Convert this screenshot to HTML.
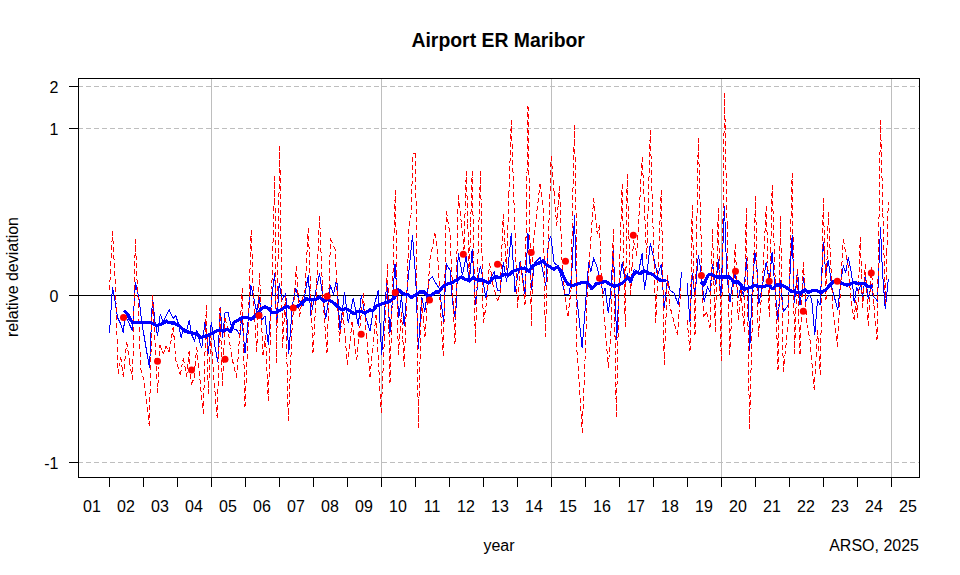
<!DOCTYPE html>
<html><head><meta charset="utf-8"><title>Airport ER Maribor</title>
<style>
html,body{margin:0;padding:0;background:#fff}
body{width:960px;height:575px;position:relative;overflow:hidden;font-family:"Liberation Sans",sans-serif;color:#000}
.t{position:absolute;font-size:16px;line-height:18px;white-space:nowrap}
#title{position:absolute;left:298.2px;width:400px;text-align:center;top:29.2px;font-size:19.4px;line-height:22px;font-weight:bold;white-space:nowrap}
#yl{position:absolute;left:-87px;top:268px;width:200px;height:18px;text-align:center;transform:rotate(-90deg);transform-origin:center center;font-size:16px;line-height:18px;white-space:nowrap}
</style></head><body>
<svg width="960" height="575" viewBox="0 0 960 575" style="position:absolute;left:0;top:0" shape-rendering="crispEdges">
<line x1="211.5" y1="78" x2="211.5" y2="477" stroke="#bebebe" stroke-width="1"/>
<line x1="381.5" y1="78" x2="381.5" y2="477" stroke="#bebebe" stroke-width="1"/>
<line x1="551.5" y1="78" x2="551.5" y2="477" stroke="#bebebe" stroke-width="1"/>
<line x1="721.5" y1="78" x2="721.5" y2="477" stroke="#bebebe" stroke-width="1"/>
<line x1="891.5" y1="78" x2="891.5" y2="477" stroke="#bebebe" stroke-width="1"/>
<line x1="78" y1="86.5" x2="919" y2="86.5" stroke="#bebebe" stroke-width="1" stroke-dasharray="5,3"/>
<line x1="78" y1="128.5" x2="919" y2="128.5" stroke="#bebebe" stroke-width="1" stroke-dasharray="5,3"/>
<line x1="78" y1="462.5" x2="919" y2="462.5" stroke="#bebebe" stroke-width="1" stroke-dasharray="5,3"/>
<line x1="78" y1="295.5" x2="919" y2="295.5" stroke="#000" stroke-width="1"/>
<g shape-rendering="crispEdges" fill="none">
<polyline points="109.5,333.3 112.5,286.7 115.3,303.0 117.5,317.5 120.8,324.0 123.3,332.5 125.0,316.0 127.5,320.0 132.5,330.8 135.5,282.5 139.2,300.0 141.7,321.7 149.5,368.3 152.5,296.7 155.0,321.7 157.5,335.8 160.3,314.0 163.0,321.7 169.2,310.0 173.3,318.3 175.8,315.8 178.3,323.3 181.2,338.3 183.3,328.3 186.7,330.0 189.2,320.0 191.7,335.0 194.7,340.8 196.7,330.0 199.2,340.0 201.7,348.3 205.3,320.0 208.3,354.0 211.3,321.7 215.0,346.7 217.8,361.7 220.3,306.7 222.5,338.0 225.0,313.0 228.0,312.5 231.7,328.3 236.7,330.0 240.0,335.0 241.7,316.0 245.0,353.0 247.5,328.3 250.8,285.0 254.2,300.0 256.7,311.7 259.2,296.7 262.0,320.0 265.0,316.0 268.3,345.0 271.5,300.0 274.7,272.7 276.7,325.8 279.2,282.7 282.0,300.0 285.8,293.5 288.7,354.0 292.5,305.0 295.8,288.5 299.0,300.0 303.0,306.0 308.3,275.0 310.8,315.8 314.0,300.0 319.5,273.5 323.0,298.0 325.8,319.0 330.5,285.0 333.5,294.5 336.7,278.5 340.0,330.0 344.5,292.0 348.3,323.0 353.3,297.7 358.3,325.8 361.3,295.0 365.0,315.0 370.0,330.8 374.0,306.0 378.3,290.0 381.7,355.0 386.7,282.0 390.0,332.5 395.0,264.3 398.8,317.5 401.5,296.0 404.2,325.8 407.5,285.0 412.5,235.0 415.8,280.0 418.3,349.3 421.7,296.7 424.7,311.7 429.2,280.0 432.5,276.7 435.8,283.3 439.2,288.3 443.7,321.7 446.3,264.0 450.0,270.0 452.5,301.7 455.5,320.0 458.3,253.5 462.5,275.0 466.3,256.0 469.2,283.0 472.2,249.3 475.5,305.0 478.3,276.7 480.5,265.8 483.0,280.0 485.8,298.3 488.3,283.3 490.8,278.0 494.2,271.7 497.5,290.8 500.0,290.0 503.3,262.5 506.7,281.7 511.3,233.5 515.0,291.7 520.3,260.8 525.0,294.0 528.0,233.5 531.7,290.0 534.2,263.3 540.0,257.5 545.8,285.8 548.3,242.7 550.8,236.0 554.2,263.3 558.3,265.8 562.5,283.3 565.0,295.0 569.2,294.0 571.7,275.0 574.5,215.0 576.7,296.7 582.2,348.3 585.8,300.0 588.7,262.5 590.8,271.7 593.7,258.3 597.5,268.3 600.8,283.3 603.3,293.3 605.0,288.0 608.3,313.3 610.8,291.7 613.3,247.7 616.7,340.0 619.2,283.3 622.2,262.5 625.0,280.0 627.5,274.0 630.0,283.0 634.2,269.0 638.3,273.3 642.2,253.5 644.5,290.0 646.7,275.0 650.3,243.5 654.2,260.0 657.5,275.0 661.3,264.0 664.2,308.3 667.5,279.0 670.0,290.0 674.2,293.3 678.3,305.0 681.7,271.7" stroke="#0000ff" stroke-width="1"/>
<polyline points="687.0,282.5 690.0,321.7 692.2,273.3 695.0,296.7 698.3,255.0 700.8,270.0 704.2,301.7 707.5,286.7 710.0,291.7 712.5,264.2 715.8,285.0 718.3,259.2 720.8,298.3 724.5,205.7 726.7,273.3 730.0,301.7 732.5,283.3 735.3,272.5 738.3,298.3 740.8,286.7 743.7,296.7 746.3,258.3 748.3,290.0 749.7,350.8 752.5,281.7 755.0,252.5 757.5,273.3 758.7,304.2 761.7,290.0 766.3,261.7 769.2,281.7 772.2,251.7 775.0,290.0 778.2,321.7 780.5,280.0 783.3,311.7 788.3,305.0 792.2,234.8 794.5,303.3 797.5,269.2 800.0,305.0 803.7,277.5 805.8,301.7 809.2,295.0 811.7,299.2 814.8,335.0 817.5,300.0 820.0,305.0 823.3,242.3 825.8,273.3 828.3,260.0 831.7,286.7 837.8,310.2 840.8,281.0 843.3,266.0 845.8,272.7 848.3,257.5 851.7,274.3 854.2,302.7 856.7,286.8 858.3,291.8 860.8,284.3 862.5,298.5 865.3,275.0 868.3,299.3 871.3,285.2 873.3,296.0 877.5,301.0 880.5,227.0 882.5,272.7 885.3,309.3 888.3,279.3" stroke="#0000ff" stroke-width="1"/>
<polyline points="109.5,290.0 111.0,260.5" stroke="#ff0000" stroke-width="1" stroke-dasharray="5,3"/>
<polyline points="112.5,231.0 111.0,260.5" stroke="#ff0000" stroke-width="1" stroke-dasharray="5,3" stroke-dashoffset="2"/>
<polyline points="112.5,231.0 115.5,287.0 116.0,302.5" stroke="#ff0000" stroke-width="1" stroke-dasharray="5,3"/>
<polyline points="118.2,374.0 116.0,302.5" stroke="#ff0000" stroke-width="1" stroke-dasharray="5,3" stroke-dashoffset="2"/>
<polyline points="118.2,374.0 119.5,365.5" stroke="#ff0000" stroke-width="1" stroke-dasharray="5,3"/>
<polyline points="120.8,357.0 119.5,365.5" stroke="#ff0000" stroke-width="1" stroke-dasharray="5,3" stroke-dashoffset="2"/>
<polyline points="120.8,357.0 122.0,367.0" stroke="#ff0000" stroke-width="1" stroke-dasharray="5,3"/>
<polyline points="123.3,377.0 122.0,367.0" stroke="#ff0000" stroke-width="1" stroke-dasharray="5,3" stroke-dashoffset="2"/>
<polyline points="123.3,377.0 125.0,359.5" stroke="#ff0000" stroke-width="1" stroke-dasharray="5,3"/>
<polyline points="126.7,342.0 125.0,359.5" stroke="#ff0000" stroke-width="1" stroke-dasharray="5,3" stroke-dashoffset="2"/>
<polyline points="126.7,342.0 129.4,361.0" stroke="#ff0000" stroke-width="1" stroke-dasharray="5,3"/>
<polyline points="132.5,380.0 129.5,362.0 129.4,361.0" stroke="#ff0000" stroke-width="1" stroke-dasharray="5,3" stroke-dashoffset="2"/>
<polyline points="132.5,380.0 134.0,309.5" stroke="#ff0000" stroke-width="1" stroke-dasharray="5,3"/>
<polyline points="135.3,239.0 134.2,300.0 134.0,309.5" stroke="#ff0000" stroke-width="1" stroke-dasharray="5,3" stroke-dashoffset="2"/>
<polyline points="135.3,239.0 137.0,280.0 138.2,300.0 139.4,332.8" stroke="#ff0000" stroke-width="1" stroke-dasharray="5,3"/>
<polyline points="149.2,426.0 146.5,400.0 144.2,381.0 140.8,369.0 139.4,332.8" stroke="#ff0000" stroke-width="1" stroke-dasharray="5,3" stroke-dashoffset="2"/>
<polyline points="149.2,426.0 150.8,360.5" stroke="#ff0000" stroke-width="1" stroke-dasharray="5,3"/>
<polyline points="152.5,295.0 150.8,360.0 150.8,360.5" stroke="#ff0000" stroke-width="1" stroke-dasharray="5,3" stroke-dashoffset="2"/>
<polyline points="152.5,295.0 155.0,340.0 155.2,344.0" stroke="#ff0000" stroke-width="1" stroke-dasharray="5,3"/>
<polyline points="157.5,393.0 155.2,344.0" stroke="#ff0000" stroke-width="1" stroke-dasharray="5,3" stroke-dashoffset="2"/>
<polyline points="157.5,393.0 158.8,369.0" stroke="#ff0000" stroke-width="1" stroke-dasharray="5,3"/>
<polyline points="160.0,345.0 158.8,369.0" stroke="#ff0000" stroke-width="1" stroke-dasharray="5,3" stroke-dashoffset="2"/>
<polyline points="160.0,345.0 161.7,349.5" stroke="#ff0000" stroke-width="1" stroke-dasharray="5,3"/>
<polyline points="163.3,354.0 161.7,349.5" stroke="#ff0000" stroke-width="1" stroke-dasharray="5,3" stroke-dashoffset="2"/>
<polyline points="163.3,354.0 164.6,349.9" stroke="#ff0000" stroke-width="1" stroke-dasharray="5,3"/>
<polyline points="165.8,345.7 164.6,349.9" stroke="#ff0000" stroke-width="1" stroke-dasharray="5,3" stroke-dashoffset="2"/>
<polyline points="165.8,345.7 167.5,349.0" stroke="#ff0000" stroke-width="1" stroke-dasharray="5,3"/>
<polyline points="169.2,352.3 167.5,349.0" stroke="#ff0000" stroke-width="1" stroke-dasharray="5,3" stroke-dashoffset="2"/>
<polyline points="169.2,352.3 171.2,339.5" stroke="#ff0000" stroke-width="1" stroke-dasharray="5,3"/>
<polyline points="173.3,326.7 171.2,339.5" stroke="#ff0000" stroke-width="1" stroke-dasharray="5,3" stroke-dashoffset="2"/>
<polyline points="173.3,326.7 175.1,351.2" stroke="#ff0000" stroke-width="1" stroke-dasharray="5,3"/>
<polyline points="180.3,375.0 175.8,360.0 175.1,351.2" stroke="#ff0000" stroke-width="1" stroke-dasharray="5,3" stroke-dashoffset="2"/>
<polyline points="180.3,375.0 181.8,366.5" stroke="#ff0000" stroke-width="1" stroke-dasharray="5,3"/>
<polyline points="183.3,358.0 181.8,366.5" stroke="#ff0000" stroke-width="1" stroke-dasharray="5,3" stroke-dashoffset="2"/>
<polyline points="183.3,358.0 185.0,367.2" stroke="#ff0000" stroke-width="1" stroke-dasharray="5,3"/>
<polyline points="186.7,376.5 185.0,367.2" stroke="#ff0000" stroke-width="1" stroke-dasharray="5,3" stroke-dashoffset="2"/>
<polyline points="186.7,376.5 187.9,363.6" stroke="#ff0000" stroke-width="1" stroke-dasharray="5,3"/>
<polyline points="189.2,350.7 187.9,363.6" stroke="#ff0000" stroke-width="1" stroke-dasharray="5,3" stroke-dashoffset="2"/>
<polyline points="189.2,350.7 190.2,367.9" stroke="#ff0000" stroke-width="1" stroke-dasharray="5,3"/>
<polyline points="191.3,385.0 190.2,367.9" stroke="#ff0000" stroke-width="1" stroke-dasharray="5,3" stroke-dashoffset="2"/>
<polyline points="191.3,385.0 194.0,378.0 195.0,366.1" stroke="#ff0000" stroke-width="1" stroke-dasharray="5,3"/>
<polyline points="196.7,346.7 195.0,366.1" stroke="#ff0000" stroke-width="1" stroke-dasharray="5,3" stroke-dashoffset="2"/>
<polyline points="196.7,346.7 200.0,380.0 200.0,380.3" stroke="#ff0000" stroke-width="1" stroke-dasharray="5,3"/>
<polyline points="203.3,414.0 200.0,380.3" stroke="#ff0000" stroke-width="1" stroke-dasharray="5,3" stroke-dashoffset="2"/>
<polyline points="203.3,414.0 204.8,359.5" stroke="#ff0000" stroke-width="1" stroke-dasharray="5,3"/>
<polyline points="206.3,305.0 204.8,359.5" stroke="#ff0000" stroke-width="1" stroke-dasharray="5,3" stroke-dashoffset="2"/>
<polyline points="206.3,305.0 207.3,349.5" stroke="#ff0000" stroke-width="1" stroke-dasharray="5,3"/>
<polyline points="208.3,394.0 207.3,349.5" stroke="#ff0000" stroke-width="1" stroke-dasharray="5,3" stroke-dashoffset="2"/>
<polyline points="208.3,394.0 209.6,364.5" stroke="#ff0000" stroke-width="1" stroke-dasharray="5,3"/>
<polyline points="210.8,335.0 209.6,364.5" stroke="#ff0000" stroke-width="1" stroke-dasharray="5,3" stroke-dashoffset="2"/>
<polyline points="210.8,335.0 213.8,376.5" stroke="#ff0000" stroke-width="1" stroke-dasharray="5,3"/>
<polyline points="217.2,418.0 214.0,380.0 213.8,376.5" stroke="#ff0000" stroke-width="1" stroke-dasharray="5,3" stroke-dashoffset="2"/>
<polyline points="217.2,418.0 218.6,363.0" stroke="#ff0000" stroke-width="1" stroke-dasharray="5,3"/>
<polyline points="220.0,308.0 218.6,363.0" stroke="#ff0000" stroke-width="1" stroke-dasharray="5,3" stroke-dashoffset="2"/>
<polyline points="220.0,308.0 221.2,347.2" stroke="#ff0000" stroke-width="1" stroke-dasharray="5,3"/>
<polyline points="222.5,386.5 221.2,347.2" stroke="#ff0000" stroke-width="1" stroke-dasharray="5,3" stroke-dashoffset="2"/>
<polyline points="222.5,386.5 223.8,352.2" stroke="#ff0000" stroke-width="1" stroke-dasharray="5,3"/>
<polyline points="225.0,318.0 223.8,352.2" stroke="#ff0000" stroke-width="1" stroke-dasharray="5,3" stroke-dashoffset="2"/>
<polyline points="225.0,318.0 228.0,330.0 230.5,348.1" stroke="#ff0000" stroke-width="1" stroke-dasharray="5,3"/>
<polyline points="236.7,378.0 231.7,357.0 230.5,348.1" stroke="#ff0000" stroke-width="1" stroke-dasharray="5,3" stroke-dashoffset="2"/>
<polyline points="236.7,378.0 239.8,333.0" stroke="#ff0000" stroke-width="1" stroke-dasharray="5,3"/>
<polyline points="242.2,288.0 240.0,330.0 239.8,333.0" stroke="#ff0000" stroke-width="1" stroke-dasharray="5,3" stroke-dashoffset="2"/>
<polyline points="242.2,288.0 243.6,347.5" stroke="#ff0000" stroke-width="1" stroke-dasharray="5,3"/>
<polyline points="245.0,407.0 243.6,347.5" stroke="#ff0000" stroke-width="1" stroke-dasharray="5,3" stroke-dashoffset="2"/>
<polyline points="245.0,407.0 247.5,350.0 248.5,318.5" stroke="#ff0000" stroke-width="1" stroke-dasharray="5,3"/>
<polyline points="251.2,230.0 248.5,318.5" stroke="#ff0000" stroke-width="1" stroke-dasharray="5,3" stroke-dashoffset="2"/>
<polyline points="251.2,230.0 253.2,291.0" stroke="#ff0000" stroke-width="1" stroke-dasharray="5,3"/>
<polyline points="256.7,352.0 253.5,300.0 253.2,291.0" stroke="#ff0000" stroke-width="1" stroke-dasharray="5,3" stroke-dashoffset="2"/>
<polyline points="256.7,352.0 258.1,312.4" stroke="#ff0000" stroke-width="1" stroke-dasharray="5,3"/>
<polyline points="259.5,272.7 258.1,312.4" stroke="#ff0000" stroke-width="1" stroke-dasharray="5,3" stroke-dashoffset="2"/>
<polyline points="259.5,272.7 261.2,313.9" stroke="#ff0000" stroke-width="1" stroke-dasharray="5,3"/>
<polyline points="263.0,355.0 261.2,313.9" stroke="#ff0000" stroke-width="1" stroke-dasharray="5,3" stroke-dashoffset="2"/>
<polyline points="263.0,355.0 264.2,345.0" stroke="#ff0000" stroke-width="1" stroke-dasharray="5,3"/>
<polyline points="265.5,335.0 264.2,345.0" stroke="#ff0000" stroke-width="1" stroke-dasharray="5,3" stroke-dashoffset="2"/>
<polyline points="265.5,335.0 266.9,368.0" stroke="#ff0000" stroke-width="1" stroke-dasharray="5,3"/>
<polyline points="268.3,401.0 266.9,368.0" stroke="#ff0000" stroke-width="1" stroke-dasharray="5,3" stroke-dashoffset="2"/>
<polyline points="268.3,401.0 271.5,300.0 271.8,288.5" stroke="#ff0000" stroke-width="1" stroke-dasharray="5,3"/>
<polyline points="274.7,176.0 271.8,288.5" stroke="#ff0000" stroke-width="1" stroke-dasharray="5,3" stroke-dashoffset="2"/>
<polyline points="274.7,176.0 275.6,269.5" stroke="#ff0000" stroke-width="1" stroke-dasharray="5,3"/>
<polyline points="276.5,363.0 275.6,269.5" stroke="#ff0000" stroke-width="1" stroke-dasharray="5,3" stroke-dashoffset="2"/>
<polyline points="276.5,363.0 278.1,254.5" stroke="#ff0000" stroke-width="1" stroke-dasharray="5,3"/>
<polyline points="279.7,146.0 278.1,254.5" stroke="#ff0000" stroke-width="1" stroke-dasharray="5,3" stroke-dashoffset="2"/>
<polyline points="279.7,146.0 281.1,247.0" stroke="#ff0000" stroke-width="1" stroke-dasharray="5,3"/>
<polyline points="282.5,348.0 281.1,247.0" stroke="#ff0000" stroke-width="1" stroke-dasharray="5,3" stroke-dashoffset="2"/>
<polyline points="282.5,348.0 284.0,322.0" stroke="#ff0000" stroke-width="1" stroke-dasharray="5,3"/>
<polyline points="285.5,296.0 284.0,322.0" stroke="#ff0000" stroke-width="1" stroke-dasharray="5,3" stroke-dashoffset="2"/>
<polyline points="285.5,296.0 286.9,358.5" stroke="#ff0000" stroke-width="1" stroke-dasharray="5,3"/>
<polyline points="288.3,421.0 286.9,358.5" stroke="#ff0000" stroke-width="1" stroke-dasharray="5,3" stroke-dashoffset="2"/>
<polyline points="288.3,421.0 291.5,343.5" stroke="#ff0000" stroke-width="1" stroke-dasharray="5,3"/>
<polyline points="296.3,266.0 292.0,330.0 291.5,343.5" stroke="#ff0000" stroke-width="1" stroke-dasharray="5,3" stroke-dashoffset="2"/>
<polyline points="296.3,266.0 297.9,291.5" stroke="#ff0000" stroke-width="1" stroke-dasharray="5,3"/>
<polyline points="299.5,317.0 297.9,291.5" stroke="#ff0000" stroke-width="1" stroke-dasharray="5,3" stroke-dashoffset="2"/>
<polyline points="299.5,317.0 302.0,300.0 305.0,290.0 305.9,272.8" stroke="#ff0000" stroke-width="1" stroke-dasharray="5,3"/>
<polyline points="308.3,228.0 305.9,272.8" stroke="#ff0000" stroke-width="1" stroke-dasharray="5,3" stroke-dashoffset="2"/>
<polyline points="308.3,228.0 310.6,290.2" stroke="#ff0000" stroke-width="1" stroke-dasharray="5,3"/>
<polyline points="313.0,352.5 310.6,290.2" stroke="#ff0000" stroke-width="1" stroke-dasharray="5,3" stroke-dashoffset="2"/>
<polyline points="313.0,352.5 316.0,300.0 316.7,284.3" stroke="#ff0000" stroke-width="1" stroke-dasharray="5,3"/>
<polyline points="319.5,216.0 316.7,284.3" stroke="#ff0000" stroke-width="1" stroke-dasharray="5,3" stroke-dashoffset="2"/>
<polyline points="319.5,216.0 322.4,284.6" stroke="#ff0000" stroke-width="1" stroke-dasharray="5,3"/>
<polyline points="327.0,353.0 323.0,300.0 322.4,284.6" stroke="#ff0000" stroke-width="1" stroke-dasharray="5,3" stroke-dashoffset="2"/>
<polyline points="327.0,353.0 328.8,295.8" stroke="#ff0000" stroke-width="1" stroke-dasharray="5,3"/>
<polyline points="330.5,238.5 328.8,295.8" stroke="#ff0000" stroke-width="1" stroke-dasharray="5,3" stroke-dashoffset="2"/>
<polyline points="330.5,238.5 335.0,249.0 337.0,289.8" stroke="#ff0000" stroke-width="1" stroke-dasharray="5,3"/>
<polyline points="339.5,342.0 337.0,289.8" stroke="#ff0000" stroke-width="1" stroke-dasharray="5,3" stroke-dashoffset="2"/>
<polyline points="339.5,342.0 341.2,327.0" stroke="#ff0000" stroke-width="1" stroke-dasharray="5,3"/>
<polyline points="343.0,312.0 341.2,327.0" stroke="#ff0000" stroke-width="1" stroke-dasharray="5,3" stroke-dashoffset="2"/>
<polyline points="343.0,312.0 345.2,338.5" stroke="#ff0000" stroke-width="1" stroke-dasharray="5,3"/>
<polyline points="347.5,365.0 345.2,338.5" stroke="#ff0000" stroke-width="1" stroke-dasharray="5,3" stroke-dashoffset="2"/>
<polyline points="347.5,365.0 349.8,343.5" stroke="#ff0000" stroke-width="1" stroke-dasharray="5,3"/>
<polyline points="352.0,322.0 349.8,343.5" stroke="#ff0000" stroke-width="1" stroke-dasharray="5,3" stroke-dashoffset="2"/>
<polyline points="352.0,322.0 354.4,341.0" stroke="#ff0000" stroke-width="1" stroke-dasharray="5,3"/>
<polyline points="356.7,360.0 354.4,341.0" stroke="#ff0000" stroke-width="1" stroke-dasharray="5,3" stroke-dashoffset="2"/>
<polyline points="356.7,360.0 360.0,326.4" stroke="#ff0000" stroke-width="1" stroke-dasharray="5,3"/>
<polyline points="363.3,292.7 360.0,326.4" stroke="#ff0000" stroke-width="1" stroke-dasharray="5,3" stroke-dashoffset="2"/>
<polyline points="363.3,292.7 366.0,330.0 366.4,334.7" stroke="#ff0000" stroke-width="1" stroke-dasharray="5,3"/>
<polyline points="370.0,376.7 366.4,334.7" stroke="#ff0000" stroke-width="1" stroke-dasharray="5,3" stroke-dashoffset="2"/>
<polyline points="370.0,376.7 373.0,345.9" stroke="#ff0000" stroke-width="1" stroke-dasharray="5,3"/>
<polyline points="376.0,315.0 373.0,345.9" stroke="#ff0000" stroke-width="1" stroke-dasharray="5,3" stroke-dashoffset="2"/>
<polyline points="376.0,315.0 378.6,364.0" stroke="#ff0000" stroke-width="1" stroke-dasharray="5,3"/>
<polyline points="381.2,413.0 378.6,364.0" stroke="#ff0000" stroke-width="1" stroke-dasharray="5,3" stroke-dashoffset="2"/>
<polyline points="381.2,413.0 384.4,338.5" stroke="#ff0000" stroke-width="1" stroke-dasharray="5,3"/>
<polyline points="387.5,264.0 384.4,338.5" stroke="#ff0000" stroke-width="1" stroke-dasharray="5,3" stroke-dashoffset="2"/>
<polyline points="387.5,264.0 388.8,323.5" stroke="#ff0000" stroke-width="1" stroke-dasharray="5,3"/>
<polyline points="390.0,383.0 388.8,323.5" stroke="#ff0000" stroke-width="1" stroke-dasharray="5,3" stroke-dashoffset="2"/>
<polyline points="390.0,383.0 392.6,286.5" stroke="#ff0000" stroke-width="1" stroke-dasharray="5,3"/>
<polyline points="395.3,190.0 392.6,286.5" stroke="#ff0000" stroke-width="1" stroke-dasharray="5,3" stroke-dashoffset="2"/>
<polyline points="395.3,190.0 396.8,272.5" stroke="#ff0000" stroke-width="1" stroke-dasharray="5,3"/>
<polyline points="398.3,355.0 396.8,272.5" stroke="#ff0000" stroke-width="1" stroke-dasharray="5,3" stroke-dashoffset="2"/>
<polyline points="398.3,355.0 399.9,333.5" stroke="#ff0000" stroke-width="1" stroke-dasharray="5,3"/>
<polyline points="401.5,312.0 399.9,333.5" stroke="#ff0000" stroke-width="1" stroke-dasharray="5,3" stroke-dashoffset="2"/>
<polyline points="401.5,312.0 402.9,339.4" stroke="#ff0000" stroke-width="1" stroke-dasharray="5,3"/>
<polyline points="404.2,366.7 402.9,339.4" stroke="#ff0000" stroke-width="1" stroke-dasharray="5,3" stroke-dashoffset="2"/>
<polyline points="404.2,366.7 407.0,290.0 408.0,259.0" stroke="#ff0000" stroke-width="1" stroke-dasharray="5,3"/>
<polyline points="415.3,153.0 413.0,154.0 411.0,215.0 409.2,221.0 408.0,259.0" stroke="#ff0000" stroke-width="1" stroke-dasharray="5,3" stroke-dashoffset="2"/>
<polyline points="415.3,153.0 416.5,230.0 417.0,290.3" stroke="#ff0000" stroke-width="1" stroke-dasharray="5,3"/>
<polyline points="418.3,427.7 417.0,290.3" stroke="#ff0000" stroke-width="1" stroke-dasharray="5,3" stroke-dashoffset="2"/>
<polyline points="418.3,427.7 419.9,363.9" stroke="#ff0000" stroke-width="1" stroke-dasharray="5,3"/>
<polyline points="421.5,300.0 419.9,363.9" stroke="#ff0000" stroke-width="1" stroke-dasharray="5,3" stroke-dashoffset="2"/>
<polyline points="421.5,300.0 423.2,318.4" stroke="#ff0000" stroke-width="1" stroke-dasharray="5,3"/>
<polyline points="425.0,336.7 423.2,318.4" stroke="#ff0000" stroke-width="1" stroke-dasharray="5,3" stroke-dashoffset="2"/>
<polyline points="425.0,336.7 428.3,284.9" stroke="#ff0000" stroke-width="1" stroke-dasharray="5,3"/>
<polyline points="435.0,233.5 430.0,259.0 428.3,284.9" stroke="#ff0000" stroke-width="1" stroke-dasharray="5,3" stroke-dashoffset="2"/>
<polyline points="435.0,233.5 437.5,251.0 439.7,294.7" stroke="#ff0000" stroke-width="1" stroke-dasharray="5,3"/>
<polyline points="443.3,356.0 440.0,300.0 439.7,294.7" stroke="#ff0000" stroke-width="1" stroke-dasharray="5,3" stroke-dashoffset="2"/>
<polyline points="443.3,356.0 444.8,283.5" stroke="#ff0000" stroke-width="1" stroke-dasharray="5,3"/>
<polyline points="446.3,211.0 444.8,283.5" stroke="#ff0000" stroke-width="1" stroke-dasharray="5,3" stroke-dashoffset="2"/>
<polyline points="446.3,211.0 450.0,234.0 452.0,277.1" stroke="#ff0000" stroke-width="1" stroke-dasharray="5,3"/>
<polyline points="455.0,343.5 452.0,277.1" stroke="#ff0000" stroke-width="1" stroke-dasharray="5,3" stroke-dashoffset="2"/>
<polyline points="455.0,343.5 456.6,269.2" stroke="#ff0000" stroke-width="1" stroke-dasharray="5,3"/>
<polyline points="458.3,195.0 456.6,269.2" stroke="#ff0000" stroke-width="1" stroke-dasharray="5,3" stroke-dashoffset="2"/>
<polyline points="458.3,195.0 461.3,222.5" stroke="#ff0000" stroke-width="1" stroke-dasharray="5,3"/>
<polyline points="464.0,250.0 462.5,234.0 461.3,222.5" stroke="#ff0000" stroke-width="1" stroke-dasharray="5,3" stroke-dashoffset="2"/>
<polyline points="464.0,250.0 465.1,210.5" stroke="#ff0000" stroke-width="1" stroke-dasharray="5,3"/>
<polyline points="466.3,171.0 465.1,210.5" stroke="#ff0000" stroke-width="1" stroke-dasharray="5,3" stroke-dashoffset="2"/>
<polyline points="466.3,171.0 467.8,223.0" stroke="#ff0000" stroke-width="1" stroke-dasharray="5,3"/>
<polyline points="469.2,275.0 467.8,223.0" stroke="#ff0000" stroke-width="1" stroke-dasharray="5,3" stroke-dashoffset="2"/>
<polyline points="469.2,275.0 470.7,223.0" stroke="#ff0000" stroke-width="1" stroke-dasharray="5,3"/>
<polyline points="472.2,171.0 470.7,223.0" stroke="#ff0000" stroke-width="1" stroke-dasharray="5,3" stroke-dashoffset="2"/>
<polyline points="472.2,171.0 473.8,257.2" stroke="#ff0000" stroke-width="1" stroke-dasharray="5,3"/>
<polyline points="475.3,343.5 473.8,257.2" stroke="#ff0000" stroke-width="1" stroke-dasharray="5,3" stroke-dashoffset="2"/>
<polyline points="475.3,343.5 477.9,257.2" stroke="#ff0000" stroke-width="1" stroke-dasharray="5,3"/>
<polyline points="480.5,171.0 477.9,257.2" stroke="#ff0000" stroke-width="1" stroke-dasharray="5,3" stroke-dashoffset="2"/>
<polyline points="480.5,171.0 481.9,247.2" stroke="#ff0000" stroke-width="1" stroke-dasharray="5,3"/>
<polyline points="483.3,323.3 481.9,247.2" stroke="#ff0000" stroke-width="1" stroke-dasharray="5,3" stroke-dashoffset="2"/>
<polyline points="483.3,323.3 486.7,302.0 487.3,293.1" stroke="#ff0000" stroke-width="1" stroke-dasharray="5,3"/>
<polyline points="489.5,262.7 487.3,293.1" stroke="#ff0000" stroke-width="1" stroke-dasharray="5,3" stroke-dashoffset="2"/>
<polyline points="489.5,262.7 492.5,282.0" stroke="#ff0000" stroke-width="1" stroke-dasharray="5,3"/>
<polyline points="497.5,300.8 493.0,285.0 492.5,282.0" stroke="#ff0000" stroke-width="1" stroke-dasharray="5,3" stroke-dashoffset="2"/>
<polyline points="497.5,300.8 500.0,295.0 501.5,257.8" stroke="#ff0000" stroke-width="1" stroke-dasharray="5,3"/>
<polyline points="503.3,214.3 501.5,257.8" stroke="#ff0000" stroke-width="1" stroke-dasharray="5,3" stroke-dashoffset="2"/>
<polyline points="503.3,214.3 504.9,242.2" stroke="#ff0000" stroke-width="1" stroke-dasharray="5,3"/>
<polyline points="506.5,270.0 504.9,242.2" stroke="#ff0000" stroke-width="1" stroke-dasharray="5,3" stroke-dashoffset="2"/>
<polyline points="506.5,270.0 508.9,195.1" stroke="#ff0000" stroke-width="1" stroke-dasharray="5,3"/>
<polyline points="511.3,120.2 508.9,195.1" stroke="#ff0000" stroke-width="1" stroke-dasharray="5,3" stroke-dashoffset="2"/>
<polyline points="511.3,120.2 514.4,214.2" stroke="#ff0000" stroke-width="1" stroke-dasharray="5,3"/>
<polyline points="517.5,308.3 514.4,214.2" stroke="#ff0000" stroke-width="1" stroke-dasharray="5,3" stroke-dashoffset="2"/>
<polyline points="517.5,308.3 519.0,285.1" stroke="#ff0000" stroke-width="1" stroke-dasharray="5,3"/>
<polyline points="520.5,262.0 519.0,285.1" stroke="#ff0000" stroke-width="1" stroke-dasharray="5,3" stroke-dashoffset="2"/>
<polyline points="520.5,262.0 522.8,283.5" stroke="#ff0000" stroke-width="1" stroke-dasharray="5,3"/>
<polyline points="525.0,305.0 522.8,283.5" stroke="#ff0000" stroke-width="1" stroke-dasharray="5,3" stroke-dashoffset="2"/>
<polyline points="525.0,305.0 526.5,205.5" stroke="#ff0000" stroke-width="1" stroke-dasharray="5,3"/>
<polyline points="528.0,106.0 526.5,205.5" stroke="#ff0000" stroke-width="1" stroke-dasharray="5,3" stroke-dashoffset="2"/>
<polyline points="528.0,106.0 529.6,215.9" stroke="#ff0000" stroke-width="1" stroke-dasharray="5,3"/>
<polyline points="531.3,325.8 529.6,215.9" stroke="#ff0000" stroke-width="1" stroke-dasharray="5,3" stroke-dashoffset="2"/>
<polyline points="531.3,325.8 533.0,254.7" stroke="#ff0000" stroke-width="1" stroke-dasharray="5,3"/>
<polyline points="540.0,184.0 536.5,215.0 533.3,243.0 533.0,254.7" stroke="#ff0000" stroke-width="1" stroke-dasharray="5,3" stroke-dashoffset="2"/>
<polyline points="540.0,184.0 543.3,209.0 544.1,260.6" stroke="#ff0000" stroke-width="1" stroke-dasharray="5,3"/>
<polyline points="545.3,337.5 544.1,260.6" stroke="#ff0000" stroke-width="1" stroke-dasharray="5,3" stroke-dashoffset="2"/>
<polyline points="545.3,337.5 548.0,250.0 548.1,246.7" stroke="#ff0000" stroke-width="1" stroke-dasharray="5,3"/>
<polyline points="551.2,156.0 548.1,246.7" stroke="#ff0000" stroke-width="1" stroke-dasharray="5,3" stroke-dashoffset="2"/>
<polyline points="551.2,156.0 554.0,191.0" stroke="#ff0000" stroke-width="1" stroke-dasharray="5,3"/>
<polyline points="556.7,226.0 554.0,191.0" stroke="#ff0000" stroke-width="1" stroke-dasharray="5,3" stroke-dashoffset="2"/>
<polyline points="556.7,226.0 558.1,206.0" stroke="#ff0000" stroke-width="1" stroke-dasharray="5,3"/>
<polyline points="559.5,186.0 558.1,206.0" stroke="#ff0000" stroke-width="1" stroke-dasharray="5,3" stroke-dashoffset="2"/>
<polyline points="559.5,186.0 561.7,251.1" stroke="#ff0000" stroke-width="1" stroke-dasharray="5,3"/>
<polyline points="568.0,315.8 565.0,297.0 562.0,260.0 561.7,251.1" stroke="#ff0000" stroke-width="1" stroke-dasharray="5,3" stroke-dashoffset="2"/>
<polyline points="568.0,315.8 571.0,290.0 572.3,220.5" stroke="#ff0000" stroke-width="1" stroke-dasharray="5,3"/>
<polyline points="574.5,125.0 572.5,210.0 572.3,220.5" stroke="#ff0000" stroke-width="1" stroke-dasharray="5,3" stroke-dashoffset="2"/>
<polyline points="574.5,125.0 576.0,210.0 576.3,278.8" stroke="#ff0000" stroke-width="1" stroke-dasharray="5,3"/>
<polyline points="582.2,432.5 579.0,380.0 576.5,345.0 576.3,278.8" stroke="#ff0000" stroke-width="1" stroke-dasharray="5,3" stroke-dashoffset="2"/>
<polyline points="582.2,432.5 585.0,360.0 586.5,315.4" stroke="#ff0000" stroke-width="1" stroke-dasharray="5,3"/>
<polyline points="593.7,198.5 589.0,265.0 587.0,300.0 586.5,315.4" stroke="#ff0000" stroke-width="1" stroke-dasharray="5,3" stroke-dashoffset="2"/>
<polyline points="593.7,198.5 595.5,216.4" stroke="#ff0000" stroke-width="1" stroke-dasharray="5,3"/>
<polyline points="597.2,234.3 595.5,216.4" stroke="#ff0000" stroke-width="1" stroke-dasharray="5,3" stroke-dashoffset="2"/>
<polyline points="597.2,234.3 598.4,229.7" stroke="#ff0000" stroke-width="1" stroke-dasharray="5,3"/>
<polyline points="599.5,225.0 598.4,229.7" stroke="#ff0000" stroke-width="1" stroke-dasharray="5,3" stroke-dashoffset="2"/>
<polyline points="599.5,225.0 601.0,270.0 602.7,296.3" stroke="#ff0000" stroke-width="1" stroke-dasharray="5,3"/>
<polyline points="608.3,367.5 603.3,305.0 602.7,296.3" stroke="#ff0000" stroke-width="1" stroke-dasharray="5,3" stroke-dashoffset="2"/>
<polyline points="608.3,367.5 611.0,330.0 611.7,298.4" stroke="#ff0000" stroke-width="1" stroke-dasharray="5,3"/>
<polyline points="613.3,229.3 611.7,298.4" stroke="#ff0000" stroke-width="1" stroke-dasharray="5,3" stroke-dashoffset="2"/>
<polyline points="613.3,229.3 614.8,323.4" stroke="#ff0000" stroke-width="1" stroke-dasharray="5,3"/>
<polyline points="616.3,417.5 614.8,323.4" stroke="#ff0000" stroke-width="1" stroke-dasharray="5,3" stroke-dashoffset="2"/>
<polyline points="616.3,417.5 618.8,300.9" stroke="#ff0000" stroke-width="1" stroke-dasharray="5,3"/>
<polyline points="622.2,184.3 619.5,270.0 618.8,300.9" stroke="#ff0000" stroke-width="1" stroke-dasharray="5,3" stroke-dashoffset="2"/>
<polyline points="622.2,184.3 623.8,255.9" stroke="#ff0000" stroke-width="1" stroke-dasharray="5,3"/>
<polyline points="625.3,327.5 623.8,255.9" stroke="#ff0000" stroke-width="1" stroke-dasharray="5,3" stroke-dashoffset="2"/>
<polyline points="625.3,327.5 626.2,250.8" stroke="#ff0000" stroke-width="1" stroke-dasharray="5,3"/>
<polyline points="627.2,174.2 626.2,250.8" stroke="#ff0000" stroke-width="1" stroke-dasharray="5,3" stroke-dashoffset="2"/>
<polyline points="627.2,174.2 628.9,234.6" stroke="#ff0000" stroke-width="1" stroke-dasharray="5,3"/>
<polyline points="630.5,295.0 628.9,234.6" stroke="#ff0000" stroke-width="1" stroke-dasharray="5,3" stroke-dashoffset="2"/>
<polyline points="630.5,295.0 632.0,267.5" stroke="#ff0000" stroke-width="1" stroke-dasharray="5,3"/>
<polyline points="633.5,240.0 632.0,267.5" stroke="#ff0000" stroke-width="1" stroke-dasharray="5,3" stroke-dashoffset="2"/>
<polyline points="633.5,240.0 635.1,248.0" stroke="#ff0000" stroke-width="1" stroke-dasharray="5,3"/>
<polyline points="636.7,256.0 635.1,248.0" stroke="#ff0000" stroke-width="1" stroke-dasharray="5,3" stroke-dashoffset="2"/>
<polyline points="636.7,256.0 639.5,206.3" stroke="#ff0000" stroke-width="1" stroke-dasharray="5,3"/>
<polyline points="642.2,156.7 639.5,206.3" stroke="#ff0000" stroke-width="1" stroke-dasharray="5,3" stroke-dashoffset="2"/>
<polyline points="642.2,156.7 644.5,207.8" stroke="#ff0000" stroke-width="1" stroke-dasharray="5,3"/>
<polyline points="646.7,259.0 644.5,207.8" stroke="#ff0000" stroke-width="1" stroke-dasharray="5,3" stroke-dashoffset="2"/>
<polyline points="646.7,259.0 648.5,194.5" stroke="#ff0000" stroke-width="1" stroke-dasharray="5,3"/>
<polyline points="650.3,130.0 648.5,194.5" stroke="#ff0000" stroke-width="1" stroke-dasharray="5,3" stroke-dashoffset="2"/>
<polyline points="650.3,130.0 653.0,226.7" stroke="#ff0000" stroke-width="1" stroke-dasharray="5,3"/>
<polyline points="655.8,323.3 653.0,226.7" stroke="#ff0000" stroke-width="1" stroke-dasharray="5,3" stroke-dashoffset="2"/>
<polyline points="655.8,323.3 658.5,256.6" stroke="#ff0000" stroke-width="1" stroke-dasharray="5,3"/>
<polyline points="661.3,190.0 658.5,256.6" stroke="#ff0000" stroke-width="1" stroke-dasharray="5,3" stroke-dashoffset="2"/>
<polyline points="661.3,190.0 662.8,277.5" stroke="#ff0000" stroke-width="1" stroke-dasharray="5,3"/>
<polyline points="664.2,365.0 662.8,277.5" stroke="#ff0000" stroke-width="1" stroke-dasharray="5,3" stroke-dashoffset="2"/>
<polyline points="664.2,365.0 665.9,320.0" stroke="#ff0000" stroke-width="1" stroke-dasharray="5,3"/>
<polyline points="667.5,275.0 665.9,320.0" stroke="#ff0000" stroke-width="1" stroke-dasharray="5,3" stroke-dashoffset="2"/>
<polyline points="667.5,275.0 669.9,305.4" stroke="#ff0000" stroke-width="1" stroke-dasharray="5,3"/>
<polyline points="677.5,335.0 670.0,306.7 669.9,305.4" stroke="#ff0000" stroke-width="1" stroke-dasharray="5,3" stroke-dashoffset="2"/>
<polyline points="677.5,335.0 679.2,311.5" stroke="#ff0000" stroke-width="1" stroke-dasharray="5,3"/>
<polyline points="681.0,288.0 679.2,311.5" stroke="#ff0000" stroke-width="1" stroke-dasharray="5,3" stroke-dashoffset="2"/>
<polyline points="687.0,320.0 688.5,335.4" stroke="#ff0000" stroke-width="1" stroke-dasharray="5,3"/>
<polyline points="690.0,350.8 688.5,335.4" stroke="#ff0000" stroke-width="1" stroke-dasharray="5,3" stroke-dashoffset="2"/>
<polyline points="690.0,350.8 691.1,277.9" stroke="#ff0000" stroke-width="1" stroke-dasharray="5,3"/>
<polyline points="692.2,205.0 691.1,277.9" stroke="#ff0000" stroke-width="1" stroke-dasharray="5,3" stroke-dashoffset="2"/>
<polyline points="692.2,205.0 693.6,270.0" stroke="#ff0000" stroke-width="1" stroke-dasharray="5,3"/>
<polyline points="695.0,335.0 693.6,270.0" stroke="#ff0000" stroke-width="1" stroke-dasharray="5,3" stroke-dashoffset="2"/>
<polyline points="695.0,335.0 696.6,236.5" stroke="#ff0000" stroke-width="1" stroke-dasharray="5,3"/>
<polyline points="698.3,138.0 696.6,236.5" stroke="#ff0000" stroke-width="1" stroke-dasharray="5,3" stroke-dashoffset="2"/>
<polyline points="698.3,138.0 700.8,227.3" stroke="#ff0000" stroke-width="1" stroke-dasharray="5,3"/>
<polyline points="703.3,316.7 700.8,227.3" stroke="#ff0000" stroke-width="1" stroke-dasharray="5,3" stroke-dashoffset="2"/>
<polyline points="703.3,316.7 705.0,314.6" stroke="#ff0000" stroke-width="1" stroke-dasharray="5,3"/>
<polyline points="706.7,312.5 705.0,314.6" stroke="#ff0000" stroke-width="1" stroke-dasharray="5,3" stroke-dashoffset="2"/>
<polyline points="706.7,312.5 708.4,320.4" stroke="#ff0000" stroke-width="1" stroke-dasharray="5,3"/>
<polyline points="710.0,328.3 708.4,320.4" stroke="#ff0000" stroke-width="1" stroke-dasharray="5,3" stroke-dashoffset="2"/>
<polyline points="710.0,328.3 711.2,278.6" stroke="#ff0000" stroke-width="1" stroke-dasharray="5,3"/>
<polyline points="712.5,229.0 711.2,278.6" stroke="#ff0000" stroke-width="1" stroke-dasharray="5,3" stroke-dashoffset="2"/>
<polyline points="712.5,229.0 713.9,280.4" stroke="#ff0000" stroke-width="1" stroke-dasharray="5,3"/>
<polyline points="715.3,331.7 713.9,280.4" stroke="#ff0000" stroke-width="1" stroke-dasharray="5,3" stroke-dashoffset="2"/>
<polyline points="715.3,331.7 716.8,269.9" stroke="#ff0000" stroke-width="1" stroke-dasharray="5,3"/>
<polyline points="718.3,208.2 716.8,269.9" stroke="#ff0000" stroke-width="1" stroke-dasharray="5,3" stroke-dashoffset="2"/>
<polyline points="718.3,208.2 719.8,284.5" stroke="#ff0000" stroke-width="1" stroke-dasharray="5,3"/>
<polyline points="721.2,360.8 719.8,284.5" stroke="#ff0000" stroke-width="1" stroke-dasharray="5,3" stroke-dashoffset="2"/>
<polyline points="721.2,360.8 722.9,227.0" stroke="#ff0000" stroke-width="1" stroke-dasharray="5,3"/>
<polyline points="724.5,93.2 722.9,227.0" stroke="#ff0000" stroke-width="1" stroke-dasharray="5,3" stroke-dashoffset="2"/>
<polyline points="724.5,93.2 727.1,224.1" stroke="#ff0000" stroke-width="1" stroke-dasharray="5,3"/>
<polyline points="729.7,355.0 727.1,224.1" stroke="#ff0000" stroke-width="1" stroke-dasharray="5,3" stroke-dashoffset="2"/>
<polyline points="729.7,355.0 732.5,299.5" stroke="#ff0000" stroke-width="1" stroke-dasharray="5,3"/>
<polyline points="735.3,244.0 732.5,299.5" stroke="#ff0000" stroke-width="1" stroke-dasharray="5,3" stroke-dashoffset="2"/>
<polyline points="735.3,244.0 736.8,282.0" stroke="#ff0000" stroke-width="1" stroke-dasharray="5,3"/>
<polyline points="738.3,320.0 736.8,282.0" stroke="#ff0000" stroke-width="1" stroke-dasharray="5,3" stroke-dashoffset="2"/>
<polyline points="738.3,320.0 739.6,305.0" stroke="#ff0000" stroke-width="1" stroke-dasharray="5,3"/>
<polyline points="741.0,290.0 739.6,305.0" stroke="#ff0000" stroke-width="1" stroke-dasharray="5,3" stroke-dashoffset="2"/>
<polyline points="741.0,290.0 742.6,310.9" stroke="#ff0000" stroke-width="1" stroke-dasharray="5,3"/>
<polyline points="744.2,331.7 742.6,310.9" stroke="#ff0000" stroke-width="1" stroke-dasharray="5,3" stroke-dashoffset="2"/>
<polyline points="744.2,331.7 745.2,269.9" stroke="#ff0000" stroke-width="1" stroke-dasharray="5,3"/>
<polyline points="746.3,208.2 745.2,269.9" stroke="#ff0000" stroke-width="1" stroke-dasharray="5,3" stroke-dashoffset="2"/>
<polyline points="746.3,208.2 747.9,318.6" stroke="#ff0000" stroke-width="1" stroke-dasharray="5,3"/>
<polyline points="749.5,429.0 747.9,318.6" stroke="#ff0000" stroke-width="1" stroke-dasharray="5,3" stroke-dashoffset="2"/>
<polyline points="749.5,429.0 752.5,312.4" stroke="#ff0000" stroke-width="1" stroke-dasharray="5,3"/>
<polyline points="755.5,195.7 752.5,312.4" stroke="#ff0000" stroke-width="1" stroke-dasharray="5,3" stroke-dashoffset="2"/>
<polyline points="755.5,195.7 756.9,266.2" stroke="#ff0000" stroke-width="1" stroke-dasharray="5,3"/>
<polyline points="758.3,336.7 756.9,266.2" stroke="#ff0000" stroke-width="1" stroke-dasharray="5,3" stroke-dashoffset="2"/>
<polyline points="758.3,336.7 762.0,290.0 763.0,271.2" stroke="#ff0000" stroke-width="1" stroke-dasharray="5,3"/>
<polyline points="766.3,205.7 763.0,271.2" stroke="#ff0000" stroke-width="1" stroke-dasharray="5,3" stroke-dashoffset="2"/>
<polyline points="766.3,205.7 767.8,261.2" stroke="#ff0000" stroke-width="1" stroke-dasharray="5,3"/>
<polyline points="769.2,316.7 767.8,261.2" stroke="#ff0000" stroke-width="1" stroke-dasharray="5,3" stroke-dashoffset="2"/>
<polyline points="769.2,316.7 770.7,250.8" stroke="#ff0000" stroke-width="1" stroke-dasharray="5,3"/>
<polyline points="772.2,184.8 770.7,250.8" stroke="#ff0000" stroke-width="1" stroke-dasharray="5,3" stroke-dashoffset="2"/>
<polyline points="772.2,184.8 775.1,277.4" stroke="#ff0000" stroke-width="1" stroke-dasharray="5,3"/>
<polyline points="778.0,370.0 775.1,277.4" stroke="#ff0000" stroke-width="1" stroke-dasharray="5,3" stroke-dashoffset="2"/>
<polyline points="778.0,370.0 779.2,292.9" stroke="#ff0000" stroke-width="1" stroke-dasharray="5,3"/>
<polyline points="780.5,215.7 779.2,292.9" stroke="#ff0000" stroke-width="1" stroke-dasharray="5,3" stroke-dashoffset="2"/>
<polyline points="780.5,215.7 781.9,293.7" stroke="#ff0000" stroke-width="1" stroke-dasharray="5,3"/>
<polyline points="783.3,371.7 781.9,293.7" stroke="#ff0000" stroke-width="1" stroke-dasharray="5,3" stroke-dashoffset="2"/>
<polyline points="783.3,371.7 788.3,321.7 789.6,272.6" stroke="#ff0000" stroke-width="1" stroke-dasharray="5,3"/>
<polyline points="792.2,173.2 789.6,272.6" stroke="#ff0000" stroke-width="1" stroke-dasharray="5,3" stroke-dashoffset="2"/>
<polyline points="792.2,173.2 793.4,263.7" stroke="#ff0000" stroke-width="1" stroke-dasharray="5,3"/>
<polyline points="794.5,354.2 793.4,263.7" stroke="#ff0000" stroke-width="1" stroke-dasharray="5,3" stroke-dashoffset="2"/>
<polyline points="794.5,354.2 795.9,311.7" stroke="#ff0000" stroke-width="1" stroke-dasharray="5,3"/>
<polyline points="797.2,269.2 795.9,311.7" stroke="#ff0000" stroke-width="1" stroke-dasharray="5,3" stroke-dashoffset="2"/>
<polyline points="797.2,269.2 798.6,311.7" stroke="#ff0000" stroke-width="1" stroke-dasharray="5,3"/>
<polyline points="800.0,354.2 798.6,311.7" stroke="#ff0000" stroke-width="1" stroke-dasharray="5,3" stroke-dashoffset="2"/>
<polyline points="800.0,354.2 801.6,307.9" stroke="#ff0000" stroke-width="1" stroke-dasharray="5,3"/>
<polyline points="803.3,261.7 801.6,307.9" stroke="#ff0000" stroke-width="1" stroke-dasharray="5,3" stroke-dashoffset="2"/>
<polyline points="803.3,261.7 806.7,323.3 807.2,326.0" stroke="#ff0000" stroke-width="1" stroke-dasharray="5,3"/>
<polyline points="814.2,390.0 810.0,340.0 807.2,326.0" stroke="#ff0000" stroke-width="1" stroke-dasharray="5,3" stroke-dashoffset="2"/>
<polyline points="814.2,390.0 815.9,360.0" stroke="#ff0000" stroke-width="1" stroke-dasharray="5,3"/>
<polyline points="817.5,330.0 815.9,360.0" stroke="#ff0000" stroke-width="1" stroke-dasharray="5,3" stroke-dashoffset="2"/>
<polyline points="817.5,330.0 818.9,352.5" stroke="#ff0000" stroke-width="1" stroke-dasharray="5,3"/>
<polyline points="820.3,375.0 818.9,352.5" stroke="#ff0000" stroke-width="1" stroke-dasharray="5,3" stroke-dashoffset="2"/>
<polyline points="820.3,375.0 821.8,286.5" stroke="#ff0000" stroke-width="1" stroke-dasharray="5,3"/>
<polyline points="823.3,198.0 821.8,286.5" stroke="#ff0000" stroke-width="1" stroke-dasharray="5,3" stroke-dashoffset="2"/>
<polyline points="823.3,198.0 824.6,249.0" stroke="#ff0000" stroke-width="1" stroke-dasharray="5,3"/>
<polyline points="826.0,300.0 824.6,249.0" stroke="#ff0000" stroke-width="1" stroke-dasharray="5,3" stroke-dashoffset="2"/>
<polyline points="826.0,300.0 827.1,256.0" stroke="#ff0000" stroke-width="1" stroke-dasharray="5,3"/>
<polyline points="828.3,212.0 827.1,256.0" stroke="#ff0000" stroke-width="1" stroke-dasharray="5,3" stroke-dashoffset="2"/>
<polyline points="828.3,212.0 831.5,279.6" stroke="#ff0000" stroke-width="1" stroke-dasharray="5,3"/>
<polyline points="837.3,347.0 833.0,310.0 831.5,279.6" stroke="#ff0000" stroke-width="1" stroke-dasharray="5,3" stroke-dashoffset="2"/>
<polyline points="837.3,347.0 840.3,293.1" stroke="#ff0000" stroke-width="1" stroke-dasharray="5,3"/>
<polyline points="843.3,239.2 840.3,293.1" stroke="#ff0000" stroke-width="1" stroke-dasharray="5,3" stroke-dashoffset="2"/>
<polyline points="843.3,239.2 848.0,265.0 849.3,279.6" stroke="#ff0000" stroke-width="1" stroke-dasharray="5,3"/>
<polyline points="854.2,320.2 851.0,300.0 849.3,279.6" stroke="#ff0000" stroke-width="1" stroke-dasharray="5,3" stroke-dashoffset="2"/>
<polyline points="854.2,320.2 855.0,310.1" stroke="#ff0000" stroke-width="1" stroke-dasharray="5,3"/>
<polyline points="855.8,300.0 855.0,310.1" stroke="#ff0000" stroke-width="1" stroke-dasharray="5,3" stroke-dashoffset="2"/>
<polyline points="855.8,300.0 856.6,308.9" stroke="#ff0000" stroke-width="1" stroke-dasharray="5,3"/>
<polyline points="857.5,317.7 856.6,308.9" stroke="#ff0000" stroke-width="1" stroke-dasharray="5,3" stroke-dashoffset="2"/>
<polyline points="857.5,317.7 858.9,277.4" stroke="#ff0000" stroke-width="1" stroke-dasharray="5,3"/>
<polyline points="860.3,237.2 858.9,277.4" stroke="#ff0000" stroke-width="1" stroke-dasharray="5,3" stroke-dashoffset="2"/>
<polyline points="860.3,237.2 861.4,272.9" stroke="#ff0000" stroke-width="1" stroke-dasharray="5,3"/>
<polyline points="862.5,308.5 861.4,272.9" stroke="#ff0000" stroke-width="1" stroke-dasharray="5,3" stroke-dashoffset="2"/>
<polyline points="862.5,308.5 863.9,286.4" stroke="#ff0000" stroke-width="1" stroke-dasharray="5,3"/>
<polyline points="865.3,264.2 863.9,286.4" stroke="#ff0000" stroke-width="1" stroke-dasharray="5,3" stroke-dashoffset="2"/>
<polyline points="865.3,264.2 866.8,295.1" stroke="#ff0000" stroke-width="1" stroke-dasharray="5,3"/>
<polyline points="868.3,326.0 866.8,295.1" stroke="#ff0000" stroke-width="1" stroke-dasharray="5,3" stroke-dashoffset="2"/>
<polyline points="868.3,326.0 869.8,296.8" stroke="#ff0000" stroke-width="1" stroke-dasharray="5,3"/>
<polyline points="871.3,267.5 869.8,296.8" stroke="#ff0000" stroke-width="1" stroke-dasharray="5,3" stroke-dashoffset="2"/>
<polyline points="871.3,267.5 873.5,300.0 873.8,303.9" stroke="#ff0000" stroke-width="1" stroke-dasharray="5,3"/>
<polyline points="877.0,340.2 873.8,303.9" stroke="#ff0000" stroke-width="1" stroke-dasharray="5,3" stroke-dashoffset="2"/>
<polyline points="877.0,340.2 878.8,230.1" stroke="#ff0000" stroke-width="1" stroke-dasharray="5,3"/>
<polyline points="880.5,120.0 878.8,230.1" stroke="#ff0000" stroke-width="1" stroke-dasharray="5,3" stroke-dashoffset="2"/>
<polyline points="880.5,120.0 882.9,212.2" stroke="#ff0000" stroke-width="1" stroke-dasharray="5,3"/>
<polyline points="885.3,304.3 882.9,212.2" stroke="#ff0000" stroke-width="1" stroke-dasharray="5,3" stroke-dashoffset="2"/>
<polyline points="885.3,304.3 886.8,253.0" stroke="#ff0000" stroke-width="1" stroke-dasharray="5,3"/>
<polyline points="888.3,201.7 886.8,253.0" stroke="#ff0000" stroke-width="1" stroke-dasharray="5,3" stroke-dashoffset="2"/>
</g>
<g shape-rendering="crispEdges" fill="none">
<polyline points="125.0,311.7 127.5,314.0 130.0,319.0 132.5,322.5 150.0,322.5 157.0,325.8 163.3,323.2 166.5,320.8 168.5,322.8 174.0,323.0 180.0,326.3 185.0,331.3 192.5,333.1 196.3,333.1 200.6,337.5 205.0,336.3 211.3,333.8 217.5,330.6 223.8,330.6 227.5,329.4 230.6,331.3 233.8,322.5 237.5,320.6 242.5,317.5 247.5,317.5 251.3,319.4 255.0,316.3 261.3,308.8 265.0,306.9 268.8,308.8 271.9,312.5 276.3,312.5 282.5,308.8 286.3,306.3 290.0,307.5 297.5,306.3 302.5,302.5 306.3,298.8 311.3,300.0 316.3,299.4 319.4,296.9 323.8,301.3 327.5,299.4 332.5,301.9 337.5,306.3 341.3,309.4 346.3,308.8 350.0,310.6 353.8,313.8 358.1,311.3 361.9,311.9 365.0,313.1 370.0,310.0 373.1,310.6 376.3,306.3 380.0,304.4 388.8,301.9 393.8,298.1 396.9,294.4 398.8,290.0 401.9,293.1 405.0,294.4 407.5,294.4 411.3,297.5 416.3,294.4 420.0,291.9 424.4,291.9 428.1,296.3 431.9,295.0 435.6,291.9 438.8,291.9 442.5,286.9 447.5,283.8 452.5,282.5 456.3,280.0 461.3,276.9 465.0,279.4 469.4,280.6 473.1,277.5 477.5,280.0 482.5,280.0 486.3,281.9 489.4,282.5 493.1,278.1 496.3,276.9 500.0,277.5 503.8,274.4 508.8,275.0 512.5,271.3 516.3,270.0 520.0,268.8 524.4,268.1 528.8,271.3 533.1,265.6 538.8,263.1 542.8,260.6 546.3,265.0 550.0,266.9 553.8,269.4 557.5,266.9 561.3,271.3 564.4,278.8 568.1,284.4 572.5,285.6 576.9,284.4 581.3,282.5 587.5,282.5 591.9,288.8 596.3,283.8 601.3,282.5 605.6,281.3 610.0,284.4 613.8,286.3 618.8,285.0 623.1,282.5 625.0,280.6 628.1,277.5 630.6,281.3 633.1,275.0 636.3,271.9 640.0,273.8 643.8,270.6 648.1,273.1 652.5,274.4 656.3,277.5 660.0,280.0 665.0,280.6" stroke="#0000ff" stroke-width="3.2" stroke-linejoin="round" stroke-linecap="round"/>
<polyline points="701.3,283.1 703.8,285.0 706.3,278.8 708.8,274.4 712.5,275.0 716.3,276.9 722.5,276.9 728.8,276.9 732.5,280.0 733.8,282.5 737.5,281.3 740.6,284.4 743.8,289.4 750.0,287.5 755.0,285.6 760.0,286.9 765.0,286.3 768.8,285.0 772.5,288.8 776.3,285.0 781.3,285.0 786.3,287.5 791.3,291.3 796.3,292.5 801.3,293.1 805.0,290.0 808.8,292.5 812.5,290.6 816.3,290.6 821.3,292.5 826.3,289.4 830.0,285.0 833.8,281.3 838.8,281.3 843.8,284.4 847.5,285.2 853.3,282.7 860.0,283.5 864.2,283.5 868.3,286.8 871.7,286.0" stroke="#0000ff" stroke-width="3.2" stroke-linejoin="round" stroke-linecap="round"/>
</g><g shape-rendering="geometricPrecision">
<circle cx="123.5" cy="317.4" r="3.5" fill="#ff0000"/>
<circle cx="157.5" cy="361.2" r="3.5" fill="#ff0000"/>
<circle cx="191.5" cy="370" r="3.5" fill="#ff0000"/>
<circle cx="225" cy="359.2" r="3.5" fill="#ff0000"/>
<circle cx="259" cy="315.4" r="3.5" fill="#ff0000"/>
<circle cx="293.3" cy="308" r="3.5" fill="#ff0000"/>
<circle cx="327.2" cy="296.3" r="3.5" fill="#ff0000"/>
<circle cx="361.2" cy="334.2" r="3.5" fill="#ff0000"/>
<circle cx="395.3" cy="292.4" r="3.5" fill="#ff0000"/>
<circle cx="429.5" cy="300" r="3.5" fill="#ff0000"/>
<circle cx="463.3" cy="254.3" r="3.5" fill="#ff0000"/>
<circle cx="497.5" cy="264.3" r="3.5" fill="#ff0000"/>
<circle cx="531.2" cy="252.4" r="3.5" fill="#ff0000"/>
<circle cx="565.5" cy="261.2" r="3.5" fill="#ff0000"/>
<circle cx="599.5" cy="278.3" r="3.5" fill="#ff0000"/>
<circle cx="633.3" cy="235.2" r="3.5" fill="#ff0000"/>
<circle cx="701.4" cy="275.4" r="3.5" fill="#ff0000"/>
<circle cx="735.5" cy="271.3" r="3.5" fill="#ff0000"/>
<circle cx="769.2" cy="281.3" r="3.5" fill="#ff0000"/>
<circle cx="803.3" cy="311.3" r="3.5" fill="#ff0000"/>
<circle cx="837.3" cy="281.3" r="3.5" fill="#ff0000"/>
<circle cx="871.3" cy="273" r="3.5" fill="#ff0000"/>
</g>
<rect x="78.5" y="78.5" width="841" height="399" fill="none" stroke="#000" stroke-width="1"/>
<line x1="69" y1="86.5" x2="78" y2="86.5" stroke="#000"/>
<line x1="69" y1="128.5" x2="78" y2="128.5" stroke="#000"/>
<line x1="69" y1="295.5" x2="78" y2="295.5" stroke="#000"/>
<line x1="69" y1="462.5" x2="78" y2="462.5" stroke="#000"/>
<line x1="109.5" y1="477" x2="109.5" y2="487" stroke="#000"/>
<line x1="143.5" y1="477" x2="143.5" y2="487" stroke="#000"/>
<line x1="177.5" y1="477" x2="177.5" y2="487" stroke="#000"/>
<line x1="211.5" y1="477" x2="211.5" y2="487" stroke="#000"/>
<line x1="245.5" y1="477" x2="245.5" y2="487" stroke="#000"/>
<line x1="279.5" y1="477" x2="279.5" y2="487" stroke="#000"/>
<line x1="313.5" y1="477" x2="313.5" y2="487" stroke="#000"/>
<line x1="347.5" y1="477" x2="347.5" y2="487" stroke="#000"/>
<line x1="381.5" y1="477" x2="381.5" y2="487" stroke="#000"/>
<line x1="415.5" y1="477" x2="415.5" y2="487" stroke="#000"/>
<line x1="449.5" y1="477" x2="449.5" y2="487" stroke="#000"/>
<line x1="483.5" y1="477" x2="483.5" y2="487" stroke="#000"/>
<line x1="517.5" y1="477" x2="517.5" y2="487" stroke="#000"/>
<line x1="551.5" y1="477" x2="551.5" y2="487" stroke="#000"/>
<line x1="585.5" y1="477" x2="585.5" y2="487" stroke="#000"/>
<line x1="619.5" y1="477" x2="619.5" y2="487" stroke="#000"/>
<line x1="653.5" y1="477" x2="653.5" y2="487" stroke="#000"/>
<line x1="687.5" y1="477" x2="687.5" y2="487" stroke="#000"/>
<line x1="721.5" y1="477" x2="721.5" y2="487" stroke="#000"/>
<line x1="755.5" y1="477" x2="755.5" y2="487" stroke="#000"/>
<line x1="789.5" y1="477" x2="789.5" y2="487" stroke="#000"/>
<line x1="823.5" y1="477" x2="823.5" y2="487" stroke="#000"/>
<line x1="857.5" y1="477" x2="857.5" y2="487" stroke="#000"/>
<line x1="891.5" y1="477" x2="891.5" y2="487" stroke="#000"/>
</svg>
<div id="title">Airport ER Maribor</div>
<div id="yl">relative deviation</div>
<div class="t" style="left:72px;top:498px;width:40px;text-align:center">01</div>
<div class="t" style="left:106px;top:498px;width:40px;text-align:center">02</div>
<div class="t" style="left:140px;top:498px;width:40px;text-align:center">03</div>
<div class="t" style="left:174px;top:498px;width:40px;text-align:center">04</div>
<div class="t" style="left:208px;top:498px;width:40px;text-align:center">05</div>
<div class="t" style="left:242px;top:498px;width:40px;text-align:center">06</div>
<div class="t" style="left:276px;top:498px;width:40px;text-align:center">07</div>
<div class="t" style="left:310px;top:498px;width:40px;text-align:center">08</div>
<div class="t" style="left:344px;top:498px;width:40px;text-align:center">09</div>
<div class="t" style="left:378px;top:498px;width:40px;text-align:center">10</div>
<div class="t" style="left:412px;top:498px;width:40px;text-align:center">11</div>
<div class="t" style="left:446px;top:498px;width:40px;text-align:center">12</div>
<div class="t" style="left:480px;top:498px;width:40px;text-align:center">13</div>
<div class="t" style="left:514px;top:498px;width:40px;text-align:center">14</div>
<div class="t" style="left:548px;top:498px;width:40px;text-align:center">15</div>
<div class="t" style="left:582px;top:498px;width:40px;text-align:center">16</div>
<div class="t" style="left:616px;top:498px;width:40px;text-align:center">17</div>
<div class="t" style="left:650px;top:498px;width:40px;text-align:center">18</div>
<div class="t" style="left:684px;top:498px;width:40px;text-align:center">19</div>
<div class="t" style="left:718px;top:498px;width:40px;text-align:center">20</div>
<div class="t" style="left:752px;top:498px;width:40px;text-align:center">21</div>
<div class="t" style="left:786px;top:498px;width:40px;text-align:center">22</div>
<div class="t" style="left:820px;top:498px;width:40px;text-align:center">23</div>
<div class="t" style="left:854px;top:498px;width:40px;text-align:center">24</div>
<div class="t" style="left:888px;top:498px;width:40px;text-align:center">25</div>
<div class="t" style="left:18.5px;top:78.5px;width:40px;text-align:right">2</div>
<div class="t" style="left:18.5px;top:120.5px;width:40px;text-align:right">1</div>
<div class="t" style="left:18.5px;top:287.5px;width:40px;text-align:right">0</div>
<div class="t" style="left:18.5px;top:454.5px;width:40px;text-align:right">-1</div>
<div class="t" style="left:449px;width:100px;text-align:center;top:537px">year</div>
<div class="t" style="right:41px;top:537px">ARSO, 2025</div>
</body></html>
